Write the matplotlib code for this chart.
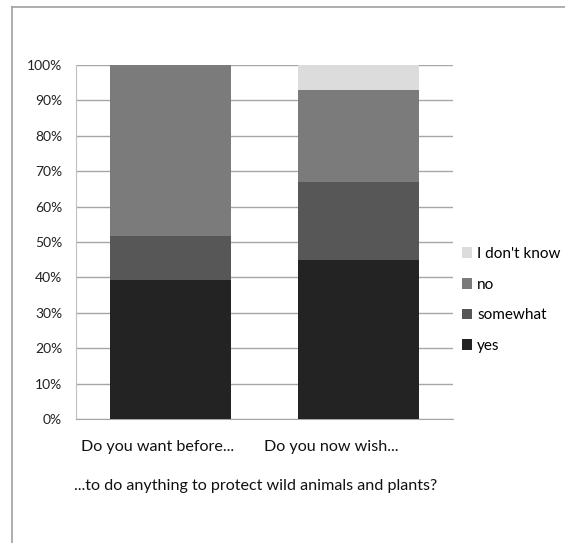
import numpy as np
import matplotlib
matplotlib.use('Agg')
import matplotlib.pyplot as plt
import matplotlib.transforms as mtransforms
from matplotlib.lines import Line2D

categories = ['Do you want before...', 'Do you now wish...']
series = ['yes', 'somewhat', 'no', "I don't know"]
yes = [39.3, 44.9]
somewhat = [12.5, 22.1]
no = [48.2, 26.0]
dontknow = [0.0, 7.0]
colors = ['#232323', '#575757', '#7b7b7b', '#dcdcdc']

matplotlib.rcParams['font.family'] = ['Lato', 'DejaVu Sans']
matplotlib.rcParams['font.size'] = 10

fig = plt.figure(figsize=(5.65, 5.43), dpi=100)
ax = fig.add_axes([76/565, 1-419/543, (453-76)/565, (419-65)/543])

x = np.arange(len(categories))
bottom = np.zeros(len(categories))
for name, vals, c in zip(series, [yes, somewhat, no, dontknow], colors):
    ax.bar(x, vals, width=0.64, bottom=bottom, color=c, zorder=3, label=name)
    bottom += np.array(vals)

ax.set_xlim(-0.5, 1.5)
ax.set_ylim(0, 100)
ax.set_yticks(np.arange(0, 101, 10))
ax.set_yticklabels(['{:d}%'.format(v) for v in range(0, 101, 10)], color='#222222')
ax.set_xticks(x)
ax.set_xticklabels(categories, fontsize=11.6, color='#111111')
ax.tick_params(axis='y', length=0, pad=10)
ax.tick_params(axis='x', length=0, pad=15)
# category labels sit a bit left of the bar centres in the original
for lab, dx in zip(ax.get_xticklabels(), [-13, -27]):
    lab.set_transform(lab.get_transform() + mtransforms.ScaledTranslation(dx/100, 0, fig.dpi_scale_trans))
ax.grid(axis='y', color='#a6a6a6', linewidth=1, zorder=0)
for s in ['top', 'right']:
    ax.spines[s].set_visible(False)
ax.spines['left'].set_color('#c0c0c0')
ax.spines['bottom'].set_color('#a6a6a6')

ax.set_xlabel('...to do anything to protect wild animals and plants?', fontsize=11.6,
              labelpad=17, color='#111111')
ax.xaxis.set_label_coords(0.476, -0.0)
ax.xaxis.label.set_va('top')
ax.xaxis.label.set_transform(ax.transAxes + mtransforms.ScaledTranslation(0, -0.6, fig.dpi_scale_trans))

h, l = ax.get_legend_handles_labels()
leg = fig.legend(h[::-1], l[::-1], loc='upper left', bbox_to_anchor=(448/565, 1-233/543),
                 frameon=False, handlelength=0.7, handleheight=0.7, handletextpad=0.3,
                 labelspacing=1.1, fontsize=11)

# outer frame lines of the original image
fig.add_artist(Line2D([12/565, 12/565], [0, 1-7/543], color='#a0a0a0', lw=1.2))
fig.add_artist(Line2D([12/565, 1], [1-7/543, 1-7/543], color='#a0a0a0', lw=1.2))

fig.savefig('out.png', dpi=100)
